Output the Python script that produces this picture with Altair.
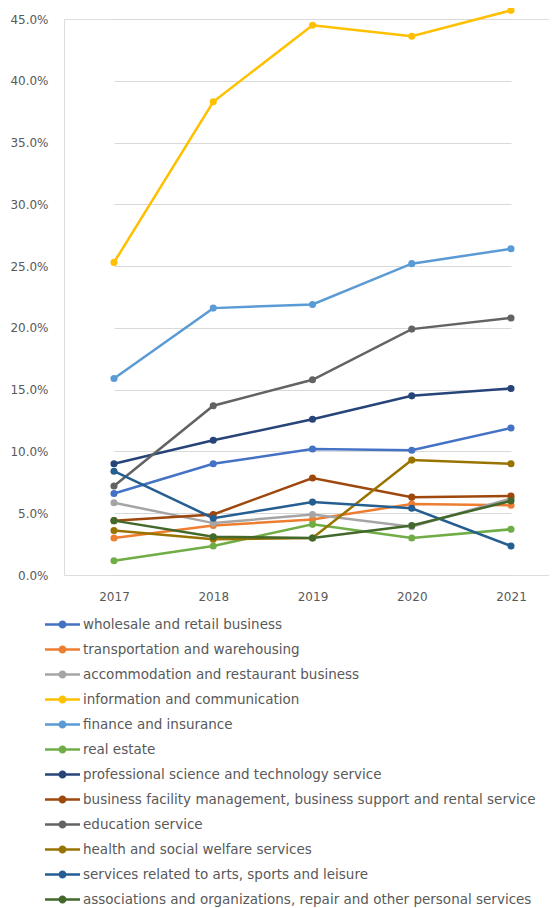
import altair as alt
import pandas as pd

years = ["2017", "2018", "2019", "2020", "2021"]
categories = [
    "wholesale and retail business",
    "transportation and warehousing",
    "accommodation and restaurant business",
    "information and communication",
    "finance and insurance",
    "real estate",
    "professional science and technology service",
    "business facility management, business support and rental service",
    "education service",
    "health and social welfare services",
    "services related to arts, sports and leisure",
    "associations and organizations, repair and other personal services",
]
values = [
    [6.6, 9.0, 10.2, 10.1, 11.9],
    [3.0, 4.0, 4.5, 5.75, 5.65],
    [5.85, 4.2, 4.9, 3.9, 6.2],
    [25.3, 38.3, 44.5, 43.6, 45.7],
    [15.9, 21.6, 21.9, 25.2, 26.4],
    [1.15, 2.35, 4.1, 3.0, 3.7],
    [9.0, 10.9, 12.6, 14.5, 15.1],
    [4.4, 4.9, 7.85, 6.3, 6.4],
    [7.2, 13.7, 15.8, 19.9, 20.8],
    [3.6, 2.9, 3.0, 9.3, 9.0],
    [8.4, 4.6, 5.9, 5.4, 2.35],
    [4.4, 3.1, 3.0, 4.0, 6.0],
]
colors = ["#4472C4", "#ED7D31", "#A5A5A5", "#FFC000", "#5B9BD5", "#70AD47",
          "#264478", "#9E480E", "#636363", "#997300", "#255E91", "#43682B"]

rows = []
for ci, cat in enumerate(categories):
    for yi, yr in enumerate(years):
        rows.append({"category": cat, "year": yr, "value": values[ci][yi] / 100, "order": ci})
df = pd.DataFrame(rows)

FONT = "DejaVu Sans"
TXT = "#595959"

x = alt.X("year:O", title=None,
          scale=alt.Scale(type="point", domain=years, range=[50, 447], padding=0),
          axis=alt.Axis(labelAngle=0, ticks=False, domainColor="#d9d9d9", labelColor=TXT,
                        labelFontSize=12, labelFont=FONT, labelPadding=16, grid=False))
y = alt.Y("value:Q", title=None,
          scale=alt.Scale(domain=[0, 0.45], nice=False),
          axis=alt.Axis(format=".1%", values=[i * 0.05 for i in range(10)], ticks=False, domain=False,
                        gridColor="#d9d9d9", labelColor=TXT, labelFontSize=12, labelFont=FONT,
                        labelPadding=16))

legend_symbol = ("M-1,-0.07H1V0.07H-1Z "
                 "M0.23,0A0.23,0.23,0,1,1,-0.23,0A0.23,0.23,0,1,1,0.23,0Z")

color = alt.Color("category:N", scale=alt.Scale(domain=categories, range=colors),
                  legend=alt.Legend(title=None, orient="none", legendX=-19, legendY=588,
                                    symbolType=legend_symbol, symbolSize=1225,
                                    symbolStrokeWidth=0,
                                    labelFont=FONT, labelFontSize=13.5,
                                    labelColor=TXT, labelOffset=3, padding=0,
                                    rowPadding=1, labelLimit=600, direction="vertical",
                                    symbolOpacity=1))

lines = alt.Chart(df).mark_line(strokeWidth=2.5).encode(
    x=x, y=y, color=color, order="order:Q",
)
points = alt.Chart(df).mark_circle(size=50, opacity=1).encode(
    x=x, y=y, color=color,
)

chart = alt.layer(lines, points).properties(
    width=485, height=556,
    autosize=alt.AutoSizeParams(type="none"),
    padding={"left": 56, "top": 11, "right": 0, "bottom": 333},
).configure_view(stroke=None).configure(background="white")

chart.save("out.html", embed_options={"renderer": "svg", "actions": False})
